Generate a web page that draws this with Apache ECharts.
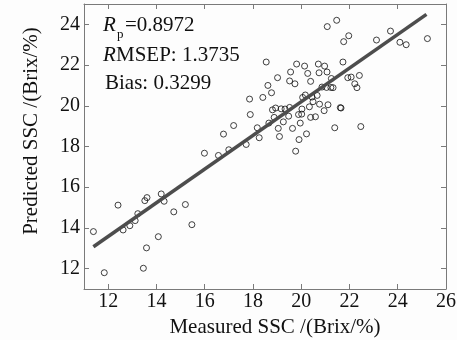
<!DOCTYPE html>
<html>
<head>
<meta charset="utf-8">
<script src="https://cdn.jsdelivr.net/npm/echarts@6/dist/echarts.min.js"></script>
<style>html,body{margin:0;padding:0;background:#fdfdfd;}#c{width:457px;height:340px;}</style>
</head>
<body>
<div id="c"></div>
<script>
// Tick labels
var xTicks = [12, 14, 16, 18, 20, 22, 24, 26];
var yTicks = [12, 14, 16, 18, 20, 22, 24];
// Measured vs predicted SSC samples [measured, predicted]
var samples = [
  [21.08, 23.89], [21.47, 24.20], [21.76, 23.15], [21.97, 23.44], [23.12, 23.23],
  [23.70, 23.67], [24.09, 23.12], [24.35, 23.00], [25.23, 23.30], [18.55, 22.15],
  [19.81, 22.05], [20.14, 21.95], [20.71, 22.05], [20.97, 21.95], [21.73, 22.15],
  [19.56, 21.66], [20.27, 21.59], [20.74, 21.62], [21.07, 21.66], [19.02, 21.38],
  [19.52, 21.22], [19.74, 21.08], [20.39, 21.20], [21.25, 21.34], [21.93, 21.38],
  [22.07, 21.41], [22.41, 21.49], [22.22, 21.08], [22.31, 20.89], [18.62, 21.00],
  [18.77, 20.64], [18.41, 20.41], [17.86, 20.33], [20.86, 20.92], [21.05, 20.90],
  [21.23, 20.90], [21.32, 20.89], [20.06, 20.41], [20.17, 20.53], [20.45, 20.43],
  [20.66, 20.51], [20.49, 20.20], [20.76, 20.08], [21.11, 20.05], [21.65, 19.89],
  [21.62, 19.91], [20.34, 19.95], [20.95, 19.76], [19.52, 19.92], [19.33, 19.84],
  [19.17, 19.85], [18.94, 19.89], [18.81, 19.80], [20.03, 19.84], [20.02, 19.59],
  [19.89, 19.57], [19.48, 19.49], [18.88, 19.43], [20.39, 19.43], [20.59, 19.46],
  [19.26, 19.21], [18.66, 19.15], [19.96, 19.15], [18.18, 18.92], [19.05, 18.89],
  [19.64, 18.89], [21.39, 18.92], [22.47, 18.98], [17.89, 19.57], [18.26, 18.43],
  [17.72, 18.10], [19.10, 18.49], [19.91, 18.34], [20.22, 18.62], [19.77, 17.77],
  [17.20, 19.03], [16.78, 18.61], [15.99, 17.67], [16.57, 17.56], [17.00, 17.84],
  [11.39, 13.82], [11.84, 11.80], [12.41, 15.12], [12.62, 13.90], [12.90, 14.11],
  [13.12, 14.36], [13.23, 14.70], [13.52, 15.34], [13.61, 15.49], [13.46, 12.02],
  [13.59, 13.02], [14.08, 13.57], [14.20, 15.67], [14.32, 15.31], [14.72, 14.79],
  [15.20, 15.15], [15.47, 14.16]
];
// Fitted regression line end points
var fitLine = [[11.39, 13.08], [25.19, 24.49]];

var FONT = 'Liberation Serif';
var axisCol = '#7a7a7a';
function baseAxis(extra) {
  return Object.assign({
    type: 'value',
    axisLine: { show: true, onZero: false, lineStyle: { color: axisCol, width: 1 } },
    axisTick: { show: true, inside: true, length: 5, lineStyle: { color: axisCol } },
    splitLine: { show: false }
  }, extra);
}
function txt(x, y, s, size, italic) {
  return { type: 'text', left: x, top: y, style: {
    text: s, fontFamily: FONT, fontSize: size, fontStyle: italic ? 'italic' : 'normal', fill: '#111' } };
}
var chart = echarts.init(document.getElementById('c'), null, { renderer: 'canvas' });
chart.setOption({
  backgroundColor: '#fdfdfd',
  animation: false,
  grid: { left: 84, right: 11, top: 4, bottom: 51, outerBoundsMode: 'none', containLabel: false },
  xAxis: [
    baseAxis({
      position: 'bottom', min: 11, max: 26,
      axisTick: { show: true, inside: true, length: 5, lineStyle: { color: axisCol }, customValues: xTicks },
      axisLabel: { customValues: xTicks, margin: 3, color: '#111', fontFamily: FONT, fontSize: 20 },
      name: 'Measured SSC /(Brix/%)', nameLocation: 'middle', nameGap: 21,
      nameTextStyle: { color: '#111', fontFamily: FONT, fontSize: 21, padding: [0, 0, 0, 20] }
    }),
    baseAxis({
      position: 'top', min: 11, max: 26,
      axisTick: { show: true, inside: true, length: 5, lineStyle: { color: axisCol }, customValues: xTicks },
      axisLabel: { show: false }
    })
  ],
  yAxis: [
    baseAxis({
      position: 'left', min: 11, max: 25,
      axisTick: { show: true, inside: true, length: 5, lineStyle: { color: axisCol }, customValues: yTicks },
      axisLabel: { customValues: yTicks, margin: 4, color: '#111', fontFamily: FONT, fontSize: 20 },
      name: 'Predicted SSC /(Brix/%)', nameLocation: 'middle', nameGap: 42,
      nameTextStyle: { color: '#111', fontFamily: FONT, fontSize: 21, padding: [0, 0, 0, 31] }
    }),
    baseAxis({
      position: 'right', min: 11, max: 25,
      axisTick: { show: true, inside: true, length: 5, lineStyle: { color: axisCol }, customValues: yTicks },
      axisLabel: { show: false }
    })
  ],
  series: [
    {
      type: 'scatter', data: samples, symbol: 'circle', symbolSize: 6,
      itemStyle: { color: 'rgba(0,0,0,0)', borderColor: '#111', borderWidth: 1 },
      z: 2
    },
    {
      type: 'line', data: fitLine, showSymbol: false, symbol: 'none',
      lineStyle: { color: '#4d4d4d', width: 3.6 }, z: 3
    }
  ],
  graphic: [
    txt(103, 15, 'R', 21, true),
    txt(117, 28, 'p', 13, false),
    txt(125, 15, '=0.8972', 21, false),
    txt(103, 45, 'R', 21, true),
    txt(116, 45, 'MSEP: 1.3735', 21, false),
    txt(105, 73, 'Bias: 0.3299', 21, false)
  ]
});
</script>
</body>
</html>
